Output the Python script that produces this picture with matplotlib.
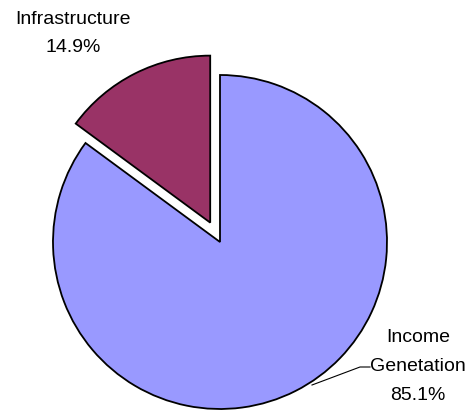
import matplotlib
matplotlib.use("Agg")
import matplotlib.pyplot as plt

# Shares of spending
categories = ["Income\nGenetation", "Infrastructure"]
shares = [85.1, 14.9]
colors = ["#9999FF", "#993366"]
explode = [0.0, 0.13]  # fraction of the radius

plt.rcParams["font.family"] = ["Liberation Sans", "DejaVu Sans"]

W, H = 475, 413
fig = plt.figure(figsize=(W / 100, H / 100), dpi=100)
ax = fig.add_axes([0, 0, 1, 1])
ax.set_xlim(0, W)
ax.set_ylim(0, H)
ax.set_aspect("equal")
ax.axis("off")

cx, cy, r = 220, H - 242, 167
# matplotlib's explode is in data units, so scale by radius
ax.pie(shares, colors=colors, explode=[e * r for e in explode], startangle=90,
       counterclock=False, center=(cx, cy), radius=r,
       wedgeprops=dict(edgecolor="black", linewidth=1.3))
ax.set_xlim(0, W)
ax.set_ylim(0, H)

fs = 14
# Infrastructure label (upper left)
infra_lines = categories[1].split("\n") + [f"{shares[1]:.1f}%"]
for i, line in enumerate(infra_lines):
    ax.text(73, H - 20 - 27 * i, line, ha="center", va="center", fontsize=fs)

# Income label (lower right) with leader line
income_lines = categories[0].split("\n") + [f"{shares[0]:.1f}%"]
for i, line in enumerate(income_lines):
    ax.text(418, H - 338 - 28.5 * i, line, ha="center", va="center", fontsize=fs)
ax.plot([312, 360, 370], [H - 385, H - 367, H - 367], color="black", lw=0.8)

fig.savefig("out.png", dpi=100)
